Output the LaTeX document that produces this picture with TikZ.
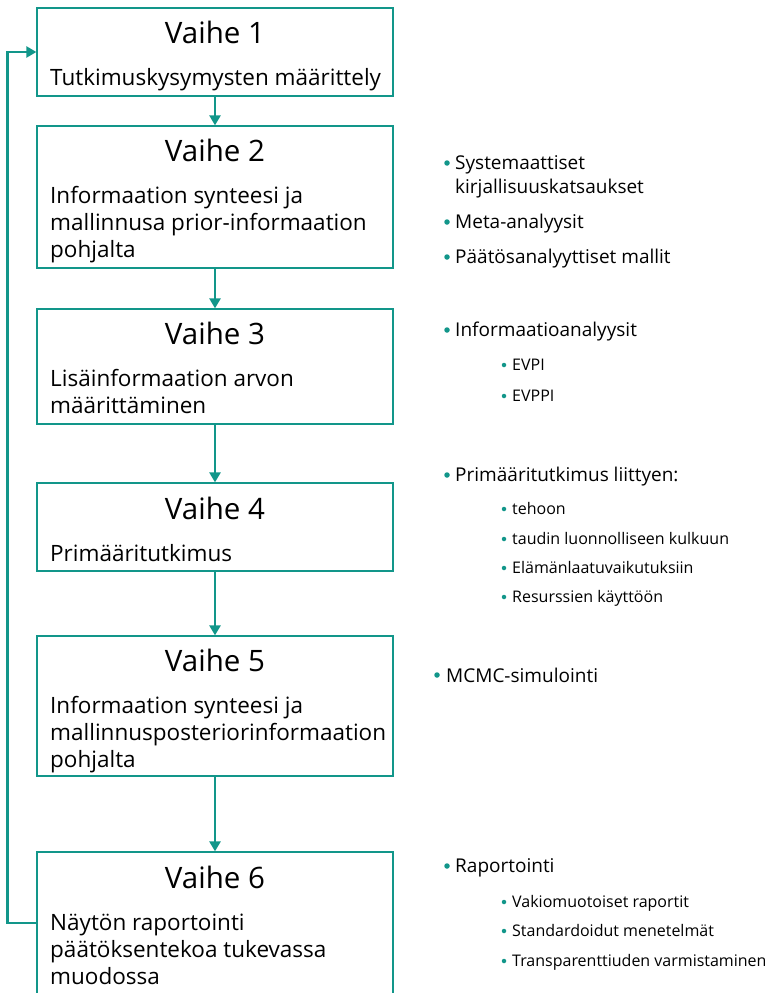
\documentclass[tikz,border=0pt]{standalone}
\usepackage{fontspec}
\setmainfont{Open Sans}
\usetikzlibrary{arrows.meta}
\definecolor{vteal}{RGB}{18,150,138}
\tikzset{
  box/.style={draw=vteal, line width=1.3pt, minimum width=356pt, inner sep=0pt},
  flow/.style={vteal, line width=2.6pt, -{Triangle[width=11pt,length=10pt]}},
  title/.style={anchor=base, font=\fontsize{29.5}{34}\selectfont},
  body/.style={anchor=base west, align=left, inner sep=0pt, font=\fontsize{22.5}{27}\selectfont},
  item/.style={anchor=base west, align=left, inner sep=0pt, font=\fontsize{19}{24}\selectfont},
  sub/.style={anchor=base west, inner sep=0pt, font=\fontsize{16}{18}\selectfont},
  dot/.style={circle, fill=vteal, inner sep=0pt, minimum size=5.5pt},
  subdot/.style={circle, fill=vteal, inner sep=0pt, minimum size=4.5pt}
}
\begin{document}
\begin{tikzpicture}[x=1pt,y=-1pt]
\clip (0,0) rectangle (765,993);
% vaiheet
\node[box, minimum height=88pt] (v1) at (215,52) {};
\node[box, minimum height=142pt] (v2) at (215,197) {};
\node[box, minimum height=115pt] (v3) at (215,366.5) {};
\node[box, minimum height=88pt] (v4) at (215,527) {};
\node[box, minimum height=140pt] (v5) at (215,706) {};
\node[box, minimum height=158pt] (v6) at (215,931) {};
\node[title] (t1) at (215,43) {Vaihe 1};
\node[title] (t2) at (215,161) {Vaihe 2};
\node[title] (t3) at (215,344) {Vaihe 3};
\node[title] (t4) at (215,519) {Vaihe 4};
\node[title] (t5) at (215,671) {Vaihe 5};
\node[title] (t6) at (215,888) {Vaihe 6};
\node[body] (b1) at (50,85) {Tutkimuskysymysten määrittely};
\node[body] (b2) at (50,257) {Informaation synteesi ja\\mallinnusa prior-informaation\\pohjalta};
\node[body] (b3) at (50,413) {Lisäinformaation arvon\\määrittäminen};
\node[body] (b4) at (50,561) {Primääritutkimus};
\node[body] (b5) at (50,767) {Informaation synteesi ja\\mallinnusposteriorinformaation\\pohjalta};
\node[body] (b6) at (50,984) {Näytön raportointi\\päätöksentekoa tukevassa\\muodossa};
% nuolet
\draw[flow] (v1) -- (v2);
\draw[flow] (v2) -- (v3);
\draw[flow] (v3) -- (v4);
\draw[flow] (v4) -- (v5);
\draw[flow] (v5) -- (v6);
\draw[flow] ([yshift=8pt]v6.west) -- ++(-29,0) |- (v1.west);
% menetelmat
\node[dot] (d2a) at (447,163) {};
\node[item] (i2a) at (455,193) {Systemaattiset\\kirjallisuuskatsaukset};
\node[dot] (d2b) at (447,222) {};
\node[item] (i2b) at (455,228) {Meta-analyysit};
\node[dot] (d2c) at (447,257) {};
\node[item] (i2c) at (455,263) {Päätösanalyyttiset mallit};
\node[dot] (d3a) at (447,330) {};
\node[item] (i3a) at (455,336) {Informaatioanalyysit};
\node[subdot] (s3a) at (504,365) {};
\node[sub] (j3a) at (512,370) {EVPI};
\node[subdot] (s3b) at (504,396) {};
\node[sub] (j3b) at (512,401) {EVPPI};
\node[dot] (d4a) at (447,475) {};
\node[item] (i4a) at (455,481) {Primääritutkimus liittyen:};
\node[subdot] (s4a) at (504,509) {};
\node[sub] (j4a) at (512,514) {tehoon};
\node[subdot] (s4b) at (504,539) {};
\node[sub] (j4b) at (512,544) {taudin luonnolliseen kulkuun};
\node[subdot] (s4c) at (504,568) {};
\node[sub] (j4c) at (512,573) {Elämänlaatuvaikutuksiin};
\node[subdot] (s4d) at (504,597) {};
\node[sub] (j4d) at (512,602) {Resurssien käyttöön};
\node[dot] (d5a) at (437,675) {};
\node[item] (i5a) at (446,682) {MCMC-simulointi};
\node[dot] (d6a) at (447,866) {};
\node[item] (i6a) at (455,872) {Raportointi};
\node[subdot] (s6a) at (504,902) {};
\node[sub] (j6a) at (512,907) {Vakiomuotoiset raportit};
\node[subdot] (s6b) at (504,931) {};
\node[sub] (j6b) at (512,936) {Standardoidut menetelmät};
\node[subdot] (s6c) at (504,961) {};
\node[sub] (j6c) at (512,966) {Transparenttiuden varmistaminen};
\end{tikzpicture}
\end{document}
